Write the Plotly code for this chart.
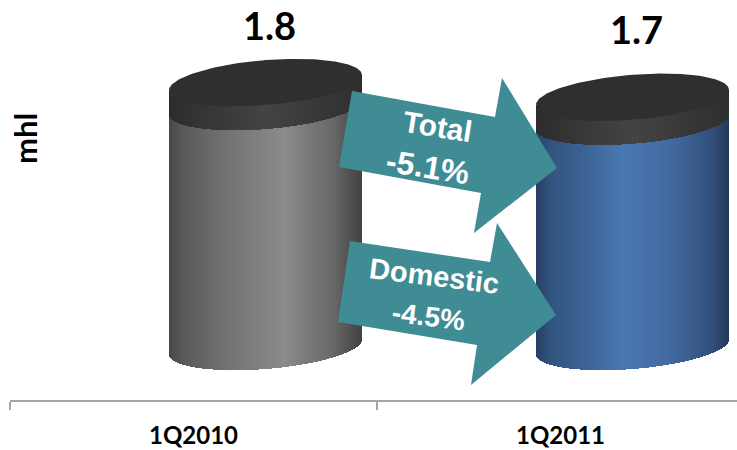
import numpy as np
import plotly.graph_objects as go

# Beer volumes in million hectolitres
periods = ["1Q2010", "1Q2011"]
volumes = [1.8, 1.7]
volume_labels = ["1.8", "1.7"]
unit_label = "mhl"
callouts = [["Total", "-5.1%"], ["Domestic", "-4.5%"]]

WIDTH, HEIGHT = 737, 450
LEFT, AXIS_PX = 10, 400
PX_PER_CATEGORY = 367.0
PX_PER_UNIT = 146.6
ZERO_PX = 346.5
FIRST_CENTER_PX = 193.5

x_range = [-0.5, (WIDTH - FIRST_CENTER_PX) / PX_PER_CATEGORY]
y_range = [(ZERO_PX - AXIS_PX) / PX_PER_UNIT, ZERO_PX / PX_PER_UNIT]

# Cylinder geometry, in screen pixels
RADIUS_X = 96.5
RADIUS_Y = 22.5
TILT = 0.078
CAP_DEPTH = 24.0
CYLINDER_OFFSET = 72.0 / PX_PER_CATEGORY

TEAL = "#3F8C94"
CAP_TOP = "#2F2F2F"
GRAY_RAMP = [(0, (72, 72, 72)), (0.08, (90, 90, 90)), (0.3, (114, 114, 114)),
             (0.6, (139, 139, 139)), (0.85, (104, 104, 104)), (1, (66, 66, 66))]
BLUE_RAMP = [(0, (40, 62, 98)), (0.08, (50, 84, 128)), (0.25, (60, 98, 148)),
             (0.45, (74, 120, 176)), (0.7, (66, 106, 160)), (0.9, (50, 82, 126)),
             (1, (38, 58, 92))]
CAP_RAMP = [(0, (44, 44, 44)), (0.5, (68, 68, 68)), (1, (46, 46, 46))]
RAMPS = [GRAY_RAMP, BLUE_RAMP]


def ramp_colors(ramp, t):
    stops = [s[0] for s in ramp]
    channels = [np.interp(t, stops, [s[1][i] for s in ramp]) for i in range(3)]
    return [f"rgb({r:.0f},{g:.0f},{b:.0f})" for r, g, b in zip(*channels)]


def rim(dx, sign):
    """Vertical offset, in value units, of a tilted ellipse edge above its centre."""
    s = np.sqrt(np.clip(1 - (dx / RADIUS_X) ** 2, 0, 1))
    return (TILT * dx + sign * RADIUS_Y * s) / PX_PER_UNIT


def px_x(p):
    return (p - FIRST_CENTER_PX) / PX_PER_CATEGORY


def px_y(p):
    return (ZERO_PX - p) / PX_PER_UNIT


fig = go.Figure()
# Strips step one pixel and overlap their neighbour so no seam shows between them
dx = np.arange(-RADIUS_X + 1.0, RADIUS_X - 0.5, 1.0)
t = (dx + RADIUS_X) / (2 * RADIUS_X)
strip = 2.0 / PX_PER_CATEGORY
centerline = TILT * dx / PX_PER_UNIT

for i, (period, value) in enumerate(zip(periods, volumes)):
    centers = i + CYLINDER_OFFSET + dx / PX_PER_CATEGORY
    base = rim(dx, -1)
    fig.add_bar(x=centers, y=value + centerline - base, base=base, width=strip,
                marker=dict(color=ramp_colors(RAMPS[i], t), line=dict(width=0)),
                name=period, hoverinfo="skip")
    cap_low = value + rim(dx, -1) - CAP_DEPTH / PX_PER_UNIT
    cap_high = value + centerline
    fig.add_bar(x=centers, y=cap_high - cap_low, base=cap_low, width=strip,
                marker=dict(color=ramp_colors(CAP_RAMP, t), line=dict(width=0)),
                showlegend=False, hoverinfo="skip")
    angle = np.linspace(0, 2 * np.pi, 181)
    ex = RADIUS_X * np.cos(angle)
    ey = value + (TILT * ex + RADIUS_Y * np.sin(angle)) / PX_PER_UNIT
    fig.add_scatter(x=i + CYLINDER_OFFSET + ex / PX_PER_CATEGORY, y=ey, mode="lines",
                    fill="toself", fillcolor=CAP_TOP, line=dict(width=0, color=CAP_TOP),
                    showlegend=False, hoverinfo="skip")

# Change callout arrows, outlined in screen pixels
arrow_outlines = [
    [(352, 91), (495, 117), (502, 78), (557, 168), (474, 233), (481, 193), (339, 167)],
    [(350, 241), (490, 262), (497, 223), (556, 315), (471, 385), (477, 345), (338, 322)],
]
for outline in arrow_outlines:
    path = "M " + " L ".join(f"{px_x(a):.4f},{px_y(b):.4f}" for a, b in outline) + " Z"
    fig.add_shape(type="path", path=path, xref="x", yref="y", layer="above",
                  fillcolor=TEAL, line=dict(width=0))


def note(px, py, text, size, color, family, angle=0):
    fig.add_annotation(x=px_x(px), y=px_y(py), xref="x", yref="y", text=f"<b>{text}</b>",
                       showarrow=False, textangle=angle, xanchor="center", yanchor="middle",
                       font=dict(size=size, color=color, family=family))


label_shift = [58, 68]
for i, (value, label) in enumerate(zip(volumes, volume_labels)):
    fig.add_annotation(x=i + CYLINDER_OFFSET + 4 / PX_PER_CATEGORY, y=value, text=f"<b>{label}</b>",
                       xref="x", yref="y", yshift=label_shift[i], showarrow=False,
                       font=dict(size=38, color="#000000", family="Lato"))

note(25, 139, unit_label, 31, "#000000", "Lato", -90)
note(437, 126, callouts[0][0], 30, "#FFFFFF", "Liberation Sans", 9)
note(428, 167, callouts[0][1], 32, "#FFFFFF", "Liberation Sans", 9)
note(434, 276, callouts[1][0], 29, "#FFFFFF", "Liberation Sans", 7)
note(428, 316, callouts[1][1], 28, "#FFFFFF", "Liberation Sans", 7)

fig.update_layout(
    width=WIDTH, height=HEIGHT, autosize=False,
    margin=dict(l=LEFT, r=0, t=0, b=HEIGHT - AXIS_PX, pad=0, autoexpand=False),
    paper_bgcolor="#FFFFFF", plot_bgcolor="#FFFFFF",
    barmode="overlay", bargap=0, showlegend=False,
    xaxis=dict(range=x_range, tickmode="array", tickvals=[0, 1], ticktext=periods,
               ticks="", showgrid=False, zeroline=False, showline=True, automargin=False,
               linecolor="#A6A6A6", linewidth=2, ticklabelstandoff=13,
               tickfont=dict(size=24, color="#000000", family="Lato", weight="bold"),
               minor=dict(tickmode="array", tickvals=[-0.5, 0.5, 1.5], ticks="outside",
                          ticklen=8, tickwidth=2, tickcolor="#A6A6A6", showgrid=False),
               fixedrange=True),
    yaxis=dict(range=y_range, visible=False, fixedrange=True),
)

fig.write_html("out.html")
